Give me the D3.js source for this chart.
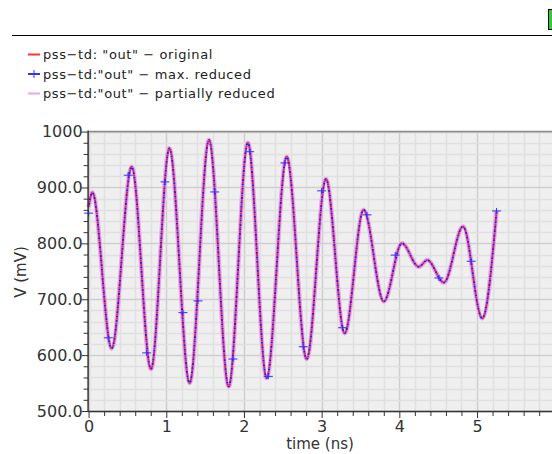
<!DOCTYPE html>
<html>
<head>
<meta charset="utf-8">
<script src="https://cdn.jsdelivr.net/npm/d3@7"></script>
<style>
  body { margin: 0; background: #fff; }
  svg { display: block; font-family: "DejaVu Sans", sans-serif; }
</style>
</head>
<body>
<script>
// waveform readings (extrema of the trace), time in ns, voltage in mV
const times = [0, 0.048, 0.297, 0.555, 0.803, 1.04, 1.30, 1.55, 1.803, 2.05, 2.292, 2.55, 2.807, 3.055,
               3.296, 3.54, 3.80, 4.033, 4.25, 4.36, 4.574, 4.82, 5.067, 5.252];
const original = [865, 891, 612, 937, 575, 970, 550, 985, 544, 980, 559, 955, 593, 915,
                  639, 860, 696, 800, 758, 770, 730, 830, 666, 858];
// the reduced traces lie on top of the original one
const maxReduced = original.slice();
const partReduced = original.slice();

// "+" markers on the max. reduced trace
const markT = [0, 0.254, 0.51, 0.747, 0.983, 1.215, 1.408, 1.623, 1.858, 2.073, 2.313, 2.527, 2.763, 3.0,
               3.27, 3.583, 3.947, 4.51, 4.925, 5.252];
const markV = [854, 631, 922, 604, 910, 676, 697, 892, 593, 964, 562, 944, 615, 894,
               649, 851, 779, 738, 768, 858];

const legendLabels = ['pss\u2212td: "out" \u2212 original', 'pss\u2212td:"out" \u2212 max. reduced', 'pss\u2212td:"out" \u2212 partially reduced'];
const yTickLabels = {1000: "1000", 900: "900.0", 800: "800.0", 700: "700.0", 600: "600.0", 500: "500.0"};

const width = 552, height = 454;
const svg = d3.select("body").append("svg").attr("width", width).attr("height", height);

const x = d3.scaleLinear().domain([0, 6]).range([88.6, 554.7]);
const y = d3.scaleLinear().domain([500, 1000]).range([411, 131.6]);

// top separator and little status box
svg.append("line").attr("x1", 12).attr("x2", width).attr("y1", 35.5).attr("y2", 35.5)
    .attr("stroke", "#000").attr("stroke-width", 1);
svg.append("rect").attr("x", 548.5).attr("y", 9.5).attr("width", 6).attr("height", 20)
    .attr("fill", "#33cc33").attr("stroke", "#000");

// legend
const legColors = ["#ff3333", "#3333ff", "#e8a8e8"];
const leg = svg.append("g").selectAll("g").data(legendLabels).enter().append("g")
    .attr("transform", (d, i) => `translate(0,${54 + i * 19.5})`);
leg.append("line").attr("x1", 28).attr("x2", 40).attr("y1", 0.5).attr("y2", 0.5)
    .attr("stroke", (d, i) => legColors[i]).attr("stroke-width", 2);
leg.filter((d, i) => i === 1).append("line").attr("x1", 34).attr("x2", 34).attr("y1", -3.5).attr("y2", 4.5)
    .attr("stroke", "#3333ff").attr("stroke-width", 1);
leg.append("text").attr("x", 43).attr("y", 5).text(d => d)
    .attr("font-size", 13).attr("letter-spacing", 0.6).attr("fill", "#222");

// plot background and grid
svg.append("rect").attr("x", x(0)).attr("y", y(1000)).attr("width", width - x(0)).attr("height", y(500) - y(1000))
    .attr("fill", "#efefef");

const minorX = d3.range(0, 30).map(i => i * 0.2);
const minorY = d3.range(0, 26).map(i => 500 + i * 20);
svg.append("g").selectAll("line").data(minorX).enter().append("line")
    .attr("x1", d => Math.round(x(d)) + 0.5).attr("x2", d => Math.round(x(d)) + 0.5)
    .attr("y1", y(1000)).attr("y2", y(500))
    .attr("stroke", (d, i) => i % 5 === 0 ? "#cfcfcf" : "#e0e0e0").attr("stroke-width", 1.5);
svg.append("g").selectAll("line").data(minorY).enter().append("line")
    .attr("y1", d => Math.round(y(d)) + 0.5).attr("y2", d => Math.round(y(d)) + 0.5)
    .attr("x1", x(0)).attr("x2", width)
    .attr("stroke", (d, i) => i % 5 === 0 ? "#cfcfcf" : "#e0e0e0").attr("stroke-width", 1.5);

// top frame line
svg.append("line").attr("x1", x(0)).attr("x2", width).attr("y1", y(1000)).attr("y2", y(1000))
    .attr("stroke", "#8a8a8a").attr("stroke-width", 1.5);

// traces
const line = d3.line().x(d => x(d[0])).y(d => y(d[1])).curve(d3.curveMonotoneX);
const pts = vals => times.map((t, i) => [t, vals[i]]);

svg.append("path").datum(pts(partReduced)).attr("d", line)
    .attr("fill", "none").attr("stroke", "#e6a6ea").attr("stroke-width", 4.5);
svg.append("path").datum(pts(original)).attr("d", line)
    .attr("fill", "none").attr("stroke", "#ff2020").attr("stroke-width", 2)
    .attr("stroke-dasharray", "2,2.5");
svg.append("path").datum(pts(maxReduced)).attr("d", line)
    .attr("fill", "none").attr("stroke", "#2020ff").attr("stroke-width", 2)
    .attr("stroke-dasharray", "2,2.5").attr("stroke-dashoffset", 2.2);

const marks = svg.append("g").selectAll("g").data(markT.map((t, i) => [t, markV[i]])).enter().append("g")
    .attr("transform", d => `translate(${x(d[0])},${y(d[1])})`);
marks.append("line").attr("x1", -4.5).attr("x2", 4.5).attr("y1", 0).attr("y2", 0).attr("stroke", "#3030ff").attr("stroke-width", 1);
marks.append("line").attr("x1", 0).attr("x2", 0).attr("y1", -3).attr("y2", 3).attr("stroke", "#3030ff").attr("stroke-width", 1);

// axes
const yAxis = d3.axisLeft(y).tickValues(minorY)
    .tickSize(0).tickFormat(d => yTickLabels[d] || "");
const gy = svg.append("g").attr("transform", `translate(${x(0)},0)`).call(yAxis);
gy.select(".domain").remove();
gy.selectAll(".tick line").attr("x1", d => d % 100 === 0 ? -7 : -5).attr("stroke", "#333");
gy.selectAll(".tick text").attr("x", -6).attr("font-size", 16).attr("fill", "#333")
    .attr("font-family", "DejaVu Sans, sans-serif");
svg.append("line").attr("x1", x(0) - 0.5).attr("x2", x(0) - 0.5).attr("y1", y(1000) - 1).attr("y2", y(500) + 1)
    .attr("stroke", "#333").attr("stroke-width", 1.5);

const xAxis = d3.axisBottom(y.copy().domain([0, 6]).range(x.range())).tickValues(minorX)
    .tickSize(0).tickFormat(d => Math.abs(d - Math.round(d)) < 1e-9 ? d3.format("d")(Math.round(d)) : "");
const gx = svg.append("g").attr("transform", `translate(0,${y(500)})`).call(xAxis);
gx.select(".domain").remove();
gx.selectAll(".tick line").attr("y2", (d, i) => i % 5 === 0 ? 7 : 5).attr("stroke", "#333");
gx.selectAll(".tick text").attr("y", 10).attr("font-size", 16).attr("fill", "#333")
    .attr("font-family", "DejaVu Sans, sans-serif");
svg.append("line").attr("x1", x(0) - 1).attr("x2", width).attr("y1", y(500) + 0.5).attr("y2", y(500) + 0.5)
    .attr("stroke", "#333").attr("stroke-width", 1.5);

// axis titles
svg.append("text").attr("transform", "translate(26,272) rotate(-90)").attr("text-anchor", "middle")
    .attr("font-size", 15).attr("fill", "#333").text("V (mV)");
svg.append("text").attr("x", 320).attr("y", 449).attr("text-anchor", "middle")
    .attr("font-size", 15).attr("fill", "#333").text("time (ns)");
</script>
</body>
</html>
